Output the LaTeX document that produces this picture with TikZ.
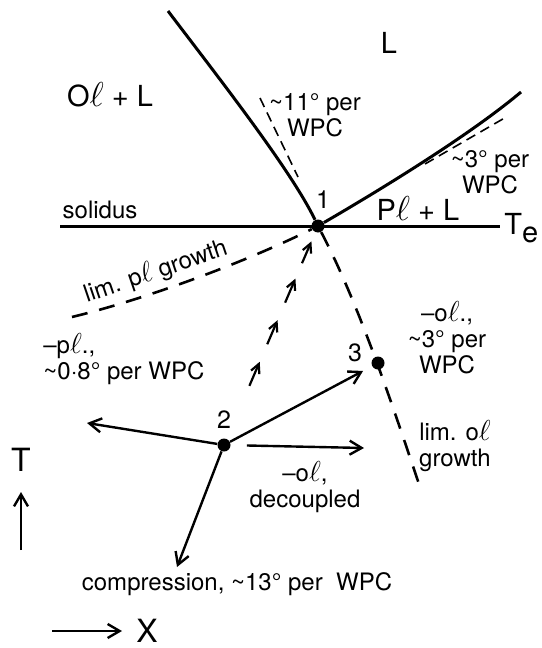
\documentclass[tikz,border=0pt]{standalone}
\usepackage{fontspec}
\setmainfont{TeX Gyre Heros}
\usepackage{graphicx}
\usepackage{tikz}
\usetikzlibrary{arrows.meta, calc}

\newcommand{\el}{\scalebox{1.2}{$\ell$}}
\newcommand{\apx}{\textasciitilde}

\begin{document}
\begin{tikzpicture}[
    x=0.5pt, y=-0.5pt,
    dot/.style={circle, fill=black, inner sep=0pt, minimum size=6.5pt},
    lbl/.style={align=center, inner sep=0pt, font=\fontsize{12}{13}\selectfont},
    big/.style={inner sep=0pt, font=\fontsize{14.5}{16}\selectfont},
    num/.style={inner sep=0pt, font=\fontsize{12.5}{14}\selectfont},
    bound/.style={line width=1.5pt},
    tang/.style={line width=0.8pt, dash pattern=on 5pt off 3pt},
    lim/.style={line width=1.3pt, dash pattern=on 8pt off 6pt},
    arr/.style={-{Straight Barb[length=6pt, width=7pt]}, line width=1.2pt},
    darr/.style={-{Straight Barb[length=4.5pt, width=4.5pt]}, line width=1.1pt}
]
\useasboundingbox (0,0) rectangle (541,648);
\fill[white] (0,0) rectangle (541,648);

% Points 1, 2, 3
\node[dot] (p1) at (318,226) {};
\node[dot] (p2) at (224,445) {};
\node[dot] (p3) at (378,363) {};
\node[num] (n1) at (323,200) {1};
\node[num] (n2) at (224,420) {2};
\node[num] (n3) at (355,353) {3};

% Phase boundaries
\coordinate (olt) at (168,11);
\coordinate (plt) at (521,92);
\coordinate (sol) at (60,226);
\coordinate (te) at (500,226);
\draw[bound] (olt) .. controls (218,77) and (291,170) .. (p1);
\draw[bound] (p1) .. controls (380,190) and (470,135) .. (plt);
\draw[bound] (sol) -- (te);

% Slopes per WPC
\coordinate (ta) at (260,98);
\coordinate (tb) at (298,177);
\coordinate (tc) at (425,164);
\coordinate (td) at (508,116);
\draw[tang] (ta) -- (tb);
\draw[tang] (tc) -- (td);

% Limits of growth
\coordinate (lpg) at (72,317);
\coordinate (log) at (422,493);
\draw[lim] (lpg) .. controls (150,298) and (250,260) .. (p1)
    node[pos=0.36, sloped, above, inner sep=3pt, font=\fontsize{12}{13}\selectfont] (lpgl) {lim. p\el\ growth};
\draw[lim] (p1) .. controls (360,306) and (395,413) .. (log);

% Paths from 2
\coordinate (pl) at (87,423);
\coordinate (comp) at (177,567);
\coordinate (dce) at (364,448);
\draw[arr] (p2) -- (pl);
\draw[arr] (p2) -- (comp);
\draw[arr, shorten >=5pt] (p2) -- (p3);
\draw[arr, shorten <=8pt] (p2) -- (dce);
\foreach \a/\b in {0.27/0.38, 0.46/0.57, 0.65/0.76, 0.83/0.93}
    \draw[darr] ($(p2)!\a!(p1)$) -- ($(p2)!\b!(p1)$);

% Labels
\node[big] (liq) at (389,43) {L};
\node[big] (olL) at (110,95) {O\el\ + L};
\node[big] (plL) at (418,208) {P\el\ + L};
\node[lbl] (s11) at (315,115) {\apx11° per\\WPC};
\node[lbl] (s3a) at (490,172) {\apx3° per\\WPC};
\node[lbl] (soll) at (100,210) {solidus};
\node[big, anchor=west] (tel) at (504,228) {T\raisebox{-0.5ex}{e}};
\node[lbl] (s3b) at (447,338) {–o\el.,\\\apx3° per\\WPC};
\node[lbl, align=left, anchor=west] (s08) at (43,359) {–p\el.,\\\apx0·8° per WPC};
\node[lbl] (dec) at (305,487) {–o\el,\\decoupled};
\node[lbl] (logl) at (455,446) {lim. o\el\\growth};
\node[lbl] (cmp) at (237,584) {compression, \apx13° per\ \ WPC};

% Axes
\coordinate (tax0) at (21,550);
\coordinate (tax1) at (21,492);
\coordinate (xax0) at (52,631);
\coordinate (xax1) at (122,631);
\draw[arr] (tax0) -- (tax1);
\draw[arr] (xax0) -- (xax1);
\node[inner sep=0pt, font=\fontsize{16}{18}\selectfont] (tl) at (21,460) {T};
\node[inner sep=0pt, font=\fontsize{16}{18}\selectfont] (xl) at (147,631) {X};

\end{tikzpicture}
\end{document}
